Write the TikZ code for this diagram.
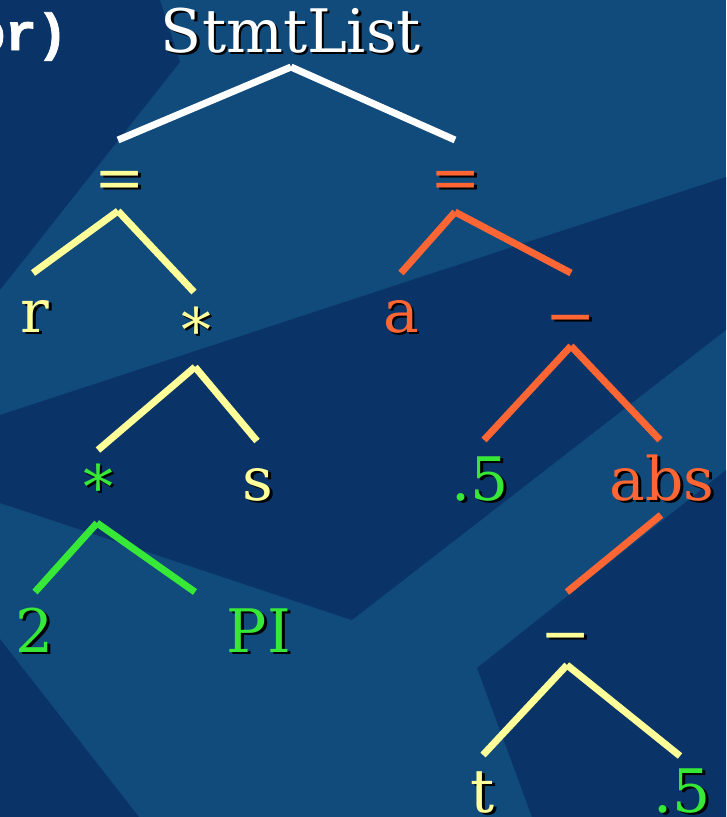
\documentclass[tikz,border=0pt]{standalone}
\usepackage{fontspec}
\setmainfont{DejaVu Serif}
\newfontfamily\codefont{Liberation Mono Bold}[FakeBold=1.6]
\definecolor{bgdark}{RGB}{10,52,104}
\definecolor{bglight}{RGB}{16,75,124}
\definecolor{tyellow}{RGB}{255,255,153}
\definecolor{torange}{RGB}{255,102,51}
\definecolor{tgreen}{RGB}{55,232,55}
\newcommand\shd[1]{\makebox[0pt][l]{\hspace{2.8pt}\raisebox{-2.8pt}{\color{black}#1}}#1}
\begin{document}
\begin{tikzpicture}[x=1pt,y=-1pt,
  lbl/.style={inner sep=0pt, anchor=base, font=\fontsize{60}{62}\selectfont},
  edge/.style={line width=7pt, line cap=butt}]
\useasboundingbox (0,0) rectangle (726,817);
% background
\fill[bglight] (0,0) rectangle (726,817);
\fill[bgdark] (0,0) -- (160,0) -- (180,62) -- (0,290) -- cycle;
\fill[bgdark] (0,415) -- (726,177) -- (726,330) -- (352,620) -- (0,503) -- cycle;
\fill[bgdark] (477,668) -- (726,470) -- (726,817) -- (532,817) -- cycle;
\fill[bgdark] (0,639) -- (139,817) -- (0,817) -- cycle;
% partial code text
\node[inner sep=0pt, anchor=base east, text=white, font=\codefont\fontsize{52}{54}\selectfont] (code) at (68,50) {pr)};
% labels
\node[lbl,text=white] (root) at (291,52) {\shd{StmtList}};
\node[lbl,text=tyellow] (eqL) at (120,198) {\shd{=}};
\node[lbl,text=torange] (eqR) at (456,198) {\shd{=}};
\node[lbl,text=tyellow] (r) at (35,332) {\shd{r}};
\node[lbl,text=tyellow] (mulA) at (196,351) {\shd{*}};
\node[lbl,text=torange] (a) at (401,332) {\shd{a}};
\node[lbl,text=torange] (subA) at (571,336) {\shd{−}};
\node[lbl,text=tgreen] (mulB) at (98,508) {\shd{*}};
\node[lbl,text=tyellow] (s) at (258,500) {\shd{s}};
\node[lbl,text=tgreen] (halfA) at (480,500) {\shd{.5}};
\node[lbl,text=torange] (abs) at (662,500) {\shd{abs}};
\node[lbl,text=tgreen] (two) at (35,652) {\shd{2}};
\node[lbl,text=tgreen] (pi) at (259,652) {\shd{PI}};
\node[lbl,text=tyellow] (subB) at (566,654) {\shd{−}};
\node[lbl,text=tyellow] (t) at (483,812) {\shd{t}};
\node[lbl,text=tgreen] (halfB) at (682,812) {\shd{.5}};
% edge coordinates
\coordinate (rootA) at (291,67);
\coordinate (rootL) at (118,140);
\coordinate (rootR) at (455,140);
\coordinate (eqLA) at (118,211);
\coordinate (eqLL) at (33,273);
\coordinate (eqLR) at (194,292);
\coordinate (eqRA) at (455,212);
\coordinate (eqRL) at (401,273);
\coordinate (eqRR) at (571,273);
\coordinate (mulAA) at (195,367);
\coordinate (mulAL) at (98,450);
\coordinate (mulAR) at (257,441);
\coordinate (subAA) at (571,346);
\coordinate (subAL) at (484,440);
\coordinate (subAR) at (660,440);
\coordinate (mulBA) at (97,523);
\coordinate (mulBL) at (35,592);
\coordinate (mulBR) at (195,592);
\coordinate (absA) at (661,515);
\coordinate (absB) at (567,592);
\coordinate (subBA) at (567,665);
\coordinate (subBL) at (483,755);
\coordinate (subBR) at (680,756);
% edges
\draw[edge,white] (rootA) -- (rootL);
\draw[edge,white] (rootA) -- (rootR);
\draw[edge,tyellow] (eqLA) -- (eqLL);
\draw[edge,tyellow] (eqLA) -- (eqLR);
\draw[edge,torange] (eqRA) -- (eqRL);
\draw[edge,torange] (eqRA) -- (eqRR);
\draw[edge,tyellow] (mulAA) -- (mulAL);
\draw[edge,tyellow] (mulAA) -- (mulAR);
\draw[edge,torange] (subAA) -- (subAL);
\draw[edge,torange] (subAA) -- (subAR);
\draw[edge,tgreen] (mulBA) -- (mulBL);
\draw[edge,tgreen] (mulBA) -- (mulBR);
\draw[edge,torange] (absA) -- (absB);
\draw[edge,tyellow] (subBA) -- (subBL);
\draw[edge,tyellow] (subBA) -- (subBR);
\end{tikzpicture}
\end{document}
